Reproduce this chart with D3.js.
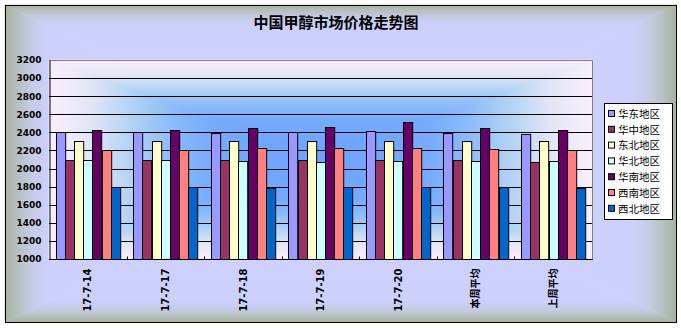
<!DOCTYPE html>
<html>
<head>
<meta charset="utf-8">
<script src="https://cdn.jsdelivr.net/npm/d3@7"></script>
<style>
  html, body { margin: 0; padding: 0; background: #fff; }
  svg { display: block; }
</style>
</head>
<body>
<svg id="chart" width="681" height="328"></svg>
<script>
// Weekly methanol prices by region (元/吨)
const categories = ["17-7-14", "17-7-17", "17-7-18", "17-7-19", "17-7-20", "本周平均", "上周平均"];
const seriesNames = ["华东地区", "华中地区", "东北地区", "华北地区", "华南地区", "西南地区", "西北地区"];
const eastChina      = [2400, 2400, 2395, 2400, 2420, 2395, 2385];
const centralChina   = [2100, 2100, 2100, 2100, 2100, 2100, 2075];
const northeastChina = [2300, 2300, 2300, 2300, 2300, 2300, 2300];
const northChina     = [2100, 2100, 2085, 2075, 2080, 2085, 2085];
const southChina     = [2425, 2425, 2445, 2455, 2520, 2450, 2430];
const southwestChina = [2200, 2200, 2230, 2230, 2230, 2220, 2200];
const northwestChina = [1800, 1800, 1790, 1795, 1800, 1800, 1785];
const seriesValues = [eastChina, centralChina, northeastChina, northChina, southChina, southwestChina, northwestChina];
const yTicks = [1000, 1200, 1400, 1600, 1800, 2000, 2200, 2400, 2600, 2800, 3000, 3200];
const seriesColors = ["#9999FF", "#993366", "#FFFFCC", "#CCFFFF", "#660066", "#FF8080", "#0066CC"];

const svg = d3.select("#chart");
const defs = svg.append("defs");

// Rectangular "from centre" gradient: four triangles meeting at the centre,
// each with a linear ramp running from its edge toward the middle.
function rectGradient(id, x, y, w, h, stops) {
  const g = svg.append("g").attr("class", id);
  const cx = x + w / 2, cy = y + h / 2;
  const sides = [
    { pts: [[x, y], [x + w, y], [cx, cy]], v: true, a: y, b: cy },
    { pts: [[x, y + h], [x + w, y + h], [cx, cy]], v: true, a: y + h, b: cy },
    { pts: [[x, y], [x, y + h], [cx, cy]], v: false, a: x, b: cx },
    { pts: [[x + w, y], [x + w, y + h], [cx, cy]], v: false, a: x + w, b: cx }
  ];
  sides.forEach((s, i) => {
    const gid = id + "-" + i;
    const lg = defs.append("linearGradient").attr("id", gid)
      .attr("gradientUnits", "userSpaceOnUse");
    if (s.v) lg.attr("x1", 0).attr("x2", 0).attr("y1", s.a).attr("y2", s.b);
    else lg.attr("y1", 0).attr("y2", 0).attr("x1", s.a).attr("x2", s.b);
    stops.forEach(st => lg.append("stop").attr("offset", st[0]).attr("stop-color", st[1]));
    g.append("path")
      .attr("d", "M" + s.pts.map(p => p.join(",")).join("L") + "Z")
      .attr("fill", "url(#" + gid + ")")
      .attr("stroke", "url(#" + gid + ")")
      .attr("stroke-width", 0.6);
  });
  return g;
}

// Chart area background and frame
const frame = { x: 5, y: 5, w: 671, h: 317 };
rectGradient("chartBg", frame.x, frame.y, frame.w, frame.h, [
  [0, "#a5b39e"], [0.035, "#b5c0bd"], [0.08, "#c6cbe6"], [0.13, "#cdd0fb"], [1, "#cfd2ff"]
]);
svg.append("rect")
  .attr("x", frame.x + 0.5).attr("y", frame.y + 0.5)
  .attr("width", frame.w).attr("height", frame.h)
  .attr("fill", "none").attr("stroke", "#000").attr("stroke-width", 1);

// Plot area
const plot = { left: 49, right: 592, top: 60, bottom: 259 };
rectGradient("plotBg", plot.left, plot.top, plot.right - plot.left, plot.bottom - plot.top, [
  [0, "#fbeefb"], [0.15, "#e2e6f6"], [0.3, "#b2d3f4"], [0.45, "#8bbcfb"], [0.6, "#77abff"], [1, "#6aa2ff"]
]);

const y = d3.scaleLinear().domain([1000, 3200]).range([plot.bottom, plot.top]);
const x0 = d3.scaleBand().domain(categories).range([plot.left, plot.right]).padding(0);
const x1 = d3.scaleBand().domain(seriesNames).range([0, x0.bandwidth()])
  .paddingInner(0).paddingOuter(0.72);

// Horizontal gridlines
svg.append("g").selectAll("line")
  .data(yTicks.filter(t => t > 1000 && t < 3200))
  .join("line")
  .attr("x1", plot.left).attr("x2", plot.right)
  .attr("y1", d => Math.round(y(d)) + 0.5).attr("y2", d => Math.round(y(d)) + 0.5)
  .attr("stroke", "#000").attr("stroke-width", 1);

// Plot area border (top/right grey)
svg.append("path")
  .attr("d", `M${plot.left},${plot.top + 0.5}H${plot.right + 0.5}V${plot.bottom}`)
  .attr("fill", "none").attr("stroke", "#808080").attr("stroke-width", 1);

// Bars
const rows = [];
categories.forEach((c, ci) => {
  seriesNames.forEach((s, si) => rows.push({ cat: c, series: s, si, value: seriesValues[si][ci] }));
});
svg.append("g").selectAll("rect")
  .data(rows)
  .join("rect")
  .attr("x", d => Math.round(x0(d.cat) + x1(d.series)) + 0.5)
  .attr("y", d => Math.round(y(d.value)) + 0.5)
  .attr("width", x1.bandwidth())
  .attr("height", d => Math.round(y(1000)) - Math.round(y(d.value)))
  .attr("fill", d => seriesColors[d.si])
  .attr("stroke", "#000").attr("stroke-width", 1);

// Y axis
const yAxis = d3.axisLeft(y).tickValues(yTicks).tickSize(0).tickPadding(8).tickFormat(d3.format("d"));
const yg = svg.append("g").attr("transform", `translate(${plot.left + 0.5},0)`).call(yAxis);
yg.select(".domain").attr("stroke", "#000");
yg.selectAll("text")
  .attr("font-family", "DejaVu Sans, Verdana, sans-serif")
  .attr("font-weight", "bold").attr("font-size", 9).attr("fill", "#000");

// X axis with inside tick marks at category boundaries
const xg = svg.append("g").attr("transform", `translate(0,${plot.bottom + 0.5})`);
xg.append("line").attr("x1", plot.left).attr("x2", plot.right + 1)
  .attr("stroke", "#000");
xg.selectAll("line.tick")
  .data(categories.slice(1))
  .join("line").attr("class", "tick")
  .attr("x1", d => Math.round(x0(d)) + 0.5).attr("x2", d => Math.round(x0(d)) + 0.5)
  .attr("y1", 0).attr("y2", -3)
  .attr("stroke", "#000");
xg.selectAll("text")
  .data(categories)
  .join("text")
  .attr("transform", d => `translate(${x0(d) + x0.bandwidth() / 2},9) rotate(-90)`)
  .attr("text-anchor", "end")
  .attr("dy", "0.36em")
  .attr("font-family", "DejaVu Sans, Noto Sans CJK SC, sans-serif")
  .attr("font-weight", "bold").attr("font-size", 10).attr("fill", "#000")
  .text(d => d);

// Title
svg.append("text")
  .attr("x", 336).attr("y", 27.5)
  .attr("text-anchor", "middle")
  .attr("font-family", "Noto Sans CJK SC, sans-serif")
  .attr("font-weight", "bold").attr("font-size", 15).attr("fill", "#000")
  .text("中国甲醇市场价格走势图");

// Legend
const legend = { x: 604, y: 103, w: 68, h: 116 };
svg.append("rect")
  .attr("x", legend.x + 0.5).attr("y", legend.y + 0.5)
  .attr("width", legend.w).attr("height", legend.h)
  .attr("fill", "#fff").attr("stroke", "#000");
const li = svg.append("g").selectAll("g")
  .data(seriesNames)
  .join("g")
  .attr("transform", (d, i) => `translate(${legend.x + 4},${legend.y + 11 + i * 15.8})`);
li.append("rect")
  .attr("x", 0.5).attr("y", -3.5).attr("width", 6).attr("height", 6)
  .attr("fill", (d, i) => seriesColors[i]).attr("stroke", "#000");
li.append("text")
  .attr("x", 10).attr("dy", "0.36em")
  .attr("font-family", "Noto Sans CJK SC, sans-serif")
  .attr("font-size", 10.5).attr("fill", "#000")
  .text(d => d);
</script>
</body>
</html>
